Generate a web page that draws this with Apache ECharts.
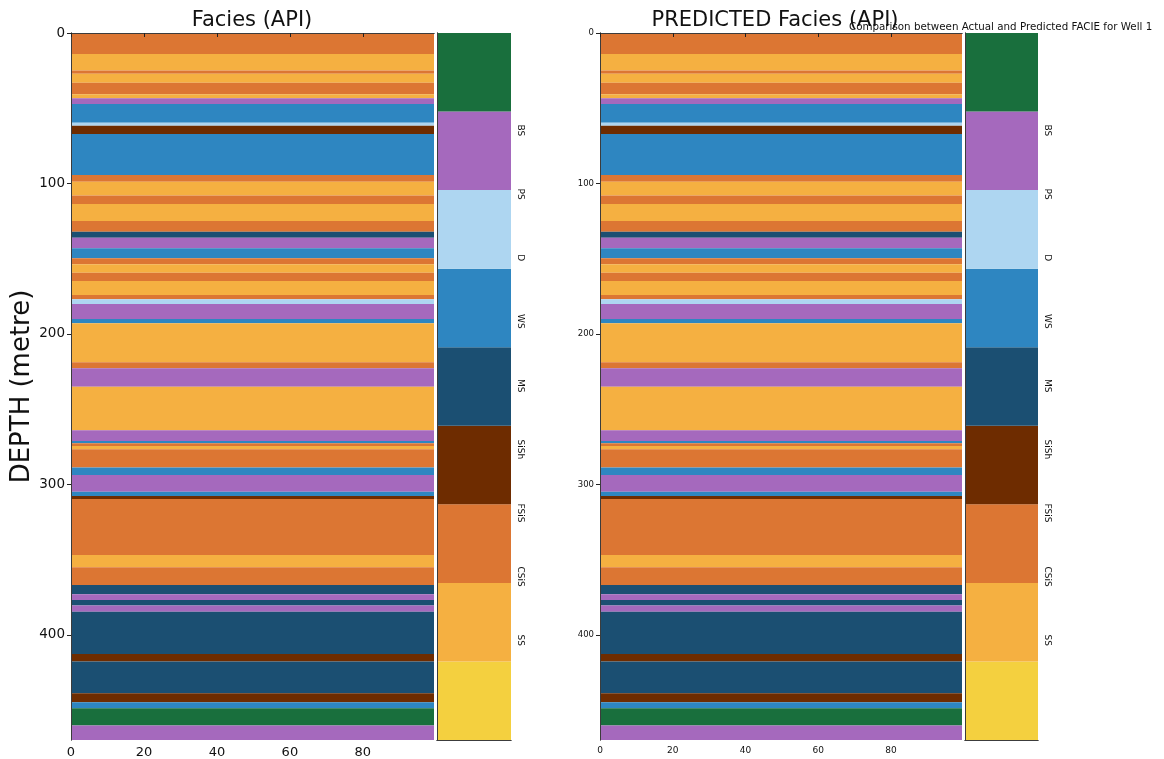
<!DOCTYPE html>
<html><head><meta charset="utf-8">
<script src="https://cdn.jsdelivr.net/npm/echarts@6/dist/echarts.min.js"></script>
<style>html,body{margin:0;padding:0;background:#fff}#c{width:1164px;height:759px}</style>
</head><body><div id="c"></div>
<script>
// ---- data ----
const faciesNames = ['SS','CSiS','FSiS','SiSh','MS','WS','D','PS','BS'];
const faciesColors = ['#F4D03F','#F5B041','#DC7633','#6E2C00','#1B4F72','#2E86C1','#AED6F1','#A569BD','#196F3D'];

const actualTops = [0,14,25,27,33,40.7,43.4,47.2,59.6,61.6,67.1,94.4,98.8,108,113.6,124.9,132,136,143,149.7,153.7,159.3,164.8,174.1,177,180.1,190.1,192.9,218.8,222.8,235,264,271.1,272.6,274.4,276.6,288.8,293.7,304.8,307.6,309.6,346.8,355,366.8,373,376.7,380.5,384.5,412.6,417.7,438.7,444.7,448.7,460.2];
const actualFacies = ['FSiS','CSiS','FSiS','CSiS','FSiS','CSiS','PS','WS','D','SiSh','WS','FSiS','CSiS','FSiS','CSiS','FSiS','MS','PS','WS','FSiS','CSiS','FSiS','CSiS','FSiS','D','PS','WS','CSiS','FSiS','PS','CSiS','PS','WS','FSiS','CSiS','FSiS','WS','PS','WS','SiSh','FSiS','CSiS','FSiS','MS','PS','MS','PS','MS','SiSh','MS','SiSh','WS','BS','PS'];

const predTops = [0,14,25,27,33,40.7,43.4,47.2,59.6,61.6,67.1,94.4,98.8,108,113.6,124.9,132,136,143,149.7,153.7,159.3,164.8,174.1,177,180.1,190.1,192.9,218.8,222.8,235,264,271.1,272.6,274.4,276.6,288.8,293.7,304.8,307.6,309.6,346.8,355,366.8,373,376.7,380.5,384.5,412.6,417.7,438.7,444.7,448.7,460.2];
const predFacies = ['FSiS','CSiS','FSiS','CSiS','FSiS','CSiS','PS','WS','D','SiSh','WS','FSiS','CSiS','FSiS','CSiS','FSiS','MS','PS','WS','FSiS','CSiS','FSiS','CSiS','FSiS','D','PS','WS','CSiS','FSiS','PS','CSiS','PS','WS','FSiS','CSiS','FSiS','WS','PS','WS','SiSh','FSiS','CSiS','FSiS','MS','PS','MS','PS','MS','SiSh','MS','SiSh','WS','BS','PS'];

const maxDepth = 469.8;
const xMax = 99.5;
const cbarLabelPos = [1.27, 2.08, 2.89, 3.70, 4.51, 5.33, 6.14, 6.95, 7.76];

// ---- build ----
function bands(tops, codes) {
  return tops.map((t, i) => [t, i + 1 < tops.length ? tops[i + 1] : maxDepth, faciesNames.indexOf(codes[i])]);
}
const cbarData = faciesNames.map((n, i) => [i, i + 1, i]);

function logRender(params, api) {
  const p0 = api.coord([0, api.value(0)]);
  const p1 = api.coord([xMax, api.value(1)]);
  return { type: 'rect', shape: { x: p0[0], y: p0[1], width: p1[0] - p0[0], height: p1[1] - p0[1] },
    style: { fill: faciesColors[api.value(2)] } };
}
function cbarRender(params, api) {
  const p0 = api.coord([0, api.value(1)]);
  const p1 = api.coord([1, api.value(0)]);
  return { type: 'rect', shape: { x: p0[0], y: p0[1], width: p1[0] - p0[0], height: p1[1] - p0[1] },
    style: { fill: faciesColors[api.value(2)] } };
}

const FONT = 'DejaVu Sans';
const frameLine = { show: true, lineStyle: { color: '#3c3c3c', width: 1 } };
function frameAxis(type, grid, pos, min, max, inverse) {
  return { type: 'value', gridIndex: grid, position: pos, min, max, inverse: !!inverse, z: 10,
    axisLine: frameLine, axisTick: { show: false }, axisLabel: { show: false }, splitLine: { show: false } };
}
function xLabeled(grid, fs) {
  return { type: 'value', gridIndex: grid, position: 'bottom', min: 0, max: xMax, interval: 20, z: 10,
    axisLine: frameLine, axisTick: { show: true, length: 4, lineStyle: { color: '#222' } },
    axisLabel: { fontSize: fs, color: '#111', fontFamily: FONT, margin: 6, showMaxLabel: false, showMinLabel: true },
    splitLine: { show: false } };
}
function yLabeled(grid, fs, name) {
  const a = { type: 'value', gridIndex: grid, position: 'left', min: 0, max: maxDepth, interval: 100, inverse: true, z: 10,
    axisLine: frameLine, axisTick: { show: true, length: 4, lineStyle: { color: '#222' } },
    axisLabel: { fontSize: fs, color: '#111', fontFamily: FONT, margin: 6, showMaxLabel: false, showMinLabel: true },
    splitLine: { show: false } };
  if (name) {
    a.name = name; a.nameLocation = 'middle'; a.nameGap = 25;
    a.nameTextStyle = { fontSize: 26, fontFamily: FONT, color: '#111' };
  }
  return a;
}
function cbarLabelAxis(grid) {
  return { type: 'value', gridIndex: grid, position: 'right', min: 0, max: 9, z: 10,
    axisLine: frameLine, axisTick: { show: false },
    axisLabel: { show: true, customValues: cbarLabelPos, rotate: -90, fontSize: 9, color: '#111', fontFamily: FONT, margin: 5,
      formatter: v => { const i = cbarLabelPos.indexOf(v); return i >= 0 ? faciesNames[i] : ''; } },
    splitLine: { show: false } };
}

const gridBase = { outerBoundsMode: 'none', containLabel: false };
const option = {
  animation: false,
  backgroundColor: '#fff',
  textStyle: { fontFamily: FONT },
  title: [
    { text: 'Facies (API)', left: 247, top: 5, textAlign: 'center', textStyle: { fontSize: 21, fontWeight: 'normal', color: '#111', fontFamily: FONT } },
    { text: 'PREDICTED Facies (API)', left: 770, top: 5, textAlign: 'center', textStyle: { fontSize: 21, fontWeight: 'normal', color: '#111', fontFamily: FONT } },
    { text: 'Comparison between Actual and Predicted FACIE for Well 1', left: 844, top: 17, textStyle: { fontSize: 10.3, fontWeight: 'normal', color: '#111', fontFamily: FONT } }
  ],
  grid: [
    Object.assign({ left: 71, top: 33, width: 363, height: 707 }, gridBase),
    Object.assign({ left: 437, top: 33, width: 74, height: 707 }, gridBase),
    Object.assign({ left: 600, top: 33, width: 362, height: 707 }, gridBase),
    Object.assign({ left: 965, top: 33, width: 73, height: 707 }, gridBase)
  ],
  xAxis: [
    xLabeled(0, 13),
    frameAxis('x', 0, 'top', 0, xMax),
    frameAxis('x', 1, 'bottom', 0, 1),
    frameAxis('x', 1, 'top', 0, 1),
    xLabeled(2, 9),
    frameAxis('x', 2, 'top', 0, xMax),
    frameAxis('x', 3, 'bottom', 0, 1),
    frameAxis('x', 3, 'top', 0, 1)
  ],
  yAxis: [
    yLabeled(0, 13.5, 'DEPTH (metre)'),
    frameAxis('y', 0, 'right', 0, maxDepth, true),
    frameAxis('y', 1, 'left', 0, 9),
    cbarLabelAxis(1),
    yLabeled(2, 8.5, null),
    frameAxis('y', 2, 'right', 0, maxDepth, true),
    frameAxis('y', 3, 'left', 0, 9),
    cbarLabelAxis(3)
  ],
  series: [
    { type: 'custom', xAxisIndex: 0, yAxisIndex: 0, renderItem: logRender, data: bands(actualTops, actualFacies), encode: { x: -1, y: [0, 1] }, silent: true },
    { type: 'custom', xAxisIndex: 2, yAxisIndex: 3, renderItem: cbarRender, data: cbarData, encode: { x: -1, y: [0, 1] }, silent: true },
    { type: 'custom', xAxisIndex: 4, yAxisIndex: 4, renderItem: logRender, data: bands(predTops, predFacies), encode: { x: -1, y: [0, 1] }, silent: true },
    { type: 'custom', xAxisIndex: 6, yAxisIndex: 7, renderItem: cbarRender, data: cbarData, encode: { x: -1, y: [0, 1] }, silent: true }
  ]
};
const chart = echarts.init(document.getElementById('c'), null, { renderer: 'canvas' });
chart.setOption(option);
</script></body></html>
